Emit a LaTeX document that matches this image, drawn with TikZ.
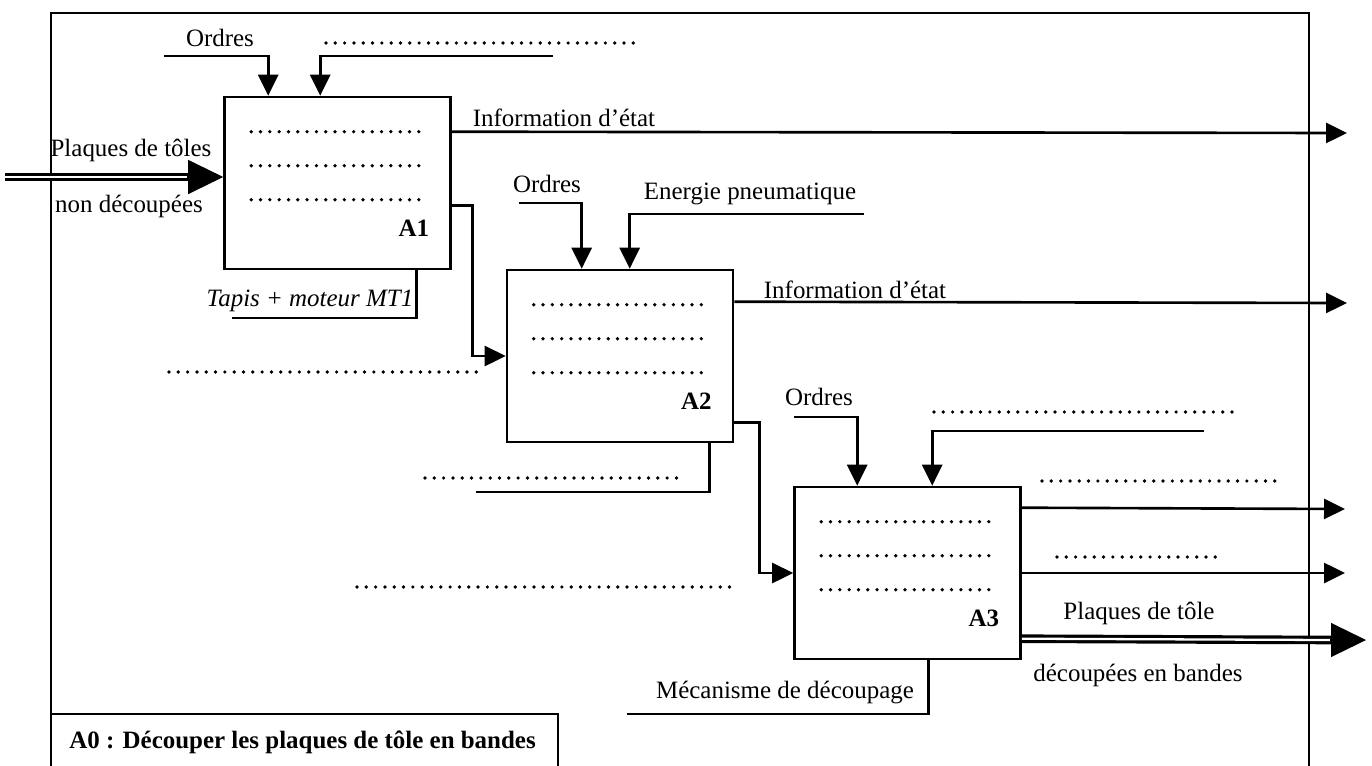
\documentclass[tikz,border=0pt]{standalone}
\usepackage{fontspec}
\setmainfont{Liberation Serif}
\usetikzlibrary{positioning,arrows.meta,calc}

\begin{document}
\begin{tikzpicture}[
    x=0.02cm, y=-0.02cm,
    box/.style={draw, line width=1.5pt, minimum width=4.52cm, minimum height=3.44cm, inner sep=0pt},
    lbl/.style={font=\fontsize{14.2}{17}\selectfont, inner sep=0pt},
    boxlbl/.style={font=\fontsize{14.2}{17}\selectfont\bfseries, inner sep=0pt},
    arrow/.style={-{Triangle[length=0.42cm,width=0.4cm]}, line width=1.5pt},
    wire/.style={line width=1.5pt},
    dbl/.style={double, line width=1.8pt, double distance=1.3pt},
    bigtip/.style={-{Triangle[length=0.7cm,width=0.68cm]}, line width=0.6pt},
    dots/.style={line width=2.1pt, line cap=round, dash pattern=on 0pt off 5.3pt}
]
\useasboundingbox (0,0) rectangle (1372,765);

% Frame and title
\draw[wire] (51,775) |- (1309,13) -- (1309,775);
\draw[wire] (51,714) -| (558,775);
\node[boxlbl, anchor=west] (a0) at (69,742) {A0 : Découper les plaques de tôle en bandes};

% Activities
\node[box] (A1) at (337.5,183) {};
\node[box] (A2) at (620,356) {};
\node[box] (A3) at (907.5,573) {};
\foreach \b in {A1,A2,A3} {
  \foreach \k in {0,1,2}
    \draw[dots] ($(\b.north west)+(28,36+34*\k)$) -- ++(168,0);
  \node[boxlbl] (\b lbl) at ($(\b.south east)+(-38,-42)$) {\b};
}

% A1
\node[lbl] (ord1) at (220,38) {Ordres};
\coordinate (c1a) at (164,56);
\coordinate (c1b) at (553,56);
\draw[arrow] (c1a) -| ($(A1.north west)+(45,0)$);
\draw[arrow] (c1b) -| ($(A1.north west)+(97,0)$);
\draw[dots] (326,43) -- (634,43);
\node[lbl] (info1) at (564,118) {Information d’état};
\coordinate (o1) at (1347,133);
\draw[arrow] ($(A1.north east)+(0,36)$) -- (o1);
\node[lbl] (plq1) at (131,150) {Plaques de tôles};
\node[lbl] (nond) at (129,206) {non découpées};
\coordinate (in1) at (5,177);
\coordinate (tip1) at (A1.west |- in1);
\draw[dbl] (in1) -- ($(tip1)+(-34,0)$);
\draw[bigtip] ($(tip1)+(-36,0)$) -- (tip1);
\draw[arrow] ($(A1.north east)+(0,110)$) -- ++(21,0) |- (A2.west);
\node[lbl, font=\fontsize{14.2}{17}\selectfont\itshape] (tapis) at (310,301) {Tapis + moteur MT1};
\coordinate (m1) at (232,318);
\draw[wire] ($(A1.south west)+(193,0)$) |- (m1);
\draw[dots] (169,372) -- (480,372);

% A2
\node[lbl] (ord2) at (547,184) {Ordres};
\node[lbl] (energ) at (750,194) {Energie pneumatique};
\coordinate (c2a) at (519,203);
\coordinate (c2b) at (864,214);
\draw[arrow] (c2a) -| ($(A2.north west)+(76,0)$);
\draw[arrow] (c2b) -| ($(A2.north west)+(124,0)$);
\node[lbl] (info2) at (855,290) {Information d’état};
\coordinate (o2) at (1347,303);
\draw[arrow] ($(A2.north east)+(0,33)$) -- (o2);
\draw[arrow] ($(A2.north east)+(0,154)$) -- ++(25,0) |- (A3.west);
\coordinate (m2) at (476,492);
\draw[wire] ($(A2.south west)+(204,0)$) |- (m2);
\draw[dots] (425,478) -- (679,478);

% A3
\node[lbl] (ord3) at (819,397) {Ordres};
\coordinate (c3a) at (794,417);
\coordinate (c3b) at (1204,431);
\draw[arrow] (c3a) -| ($(A3.north west)+(64,0)$);
\draw[arrow] (c3b) -| ($(A3.north west)+(139,0)$);
\draw[dots] (934,412) -- (1240,412);
\draw[dots] (1042,481) -- (1278,481);
\coordinate (o3) at (1345,509);
\draw[arrow] ($(A3.north east)+(0,22)$) -- (o3);
\draw[dots] (1057,557) -- (1221,557);
\coordinate (o4) at (1345,573);
\draw[arrow] (A3.east) -- (o4);
\node[lbl] (plq3) at (1139,613) {Plaques de tôle};
\node[lbl] (decb) at (1138,675) {découpées en bandes};
\coordinate (tip3) at (1366,640);
\draw[dbl] ($(A3.north east)+(0,153)$) -- ($(tip3)+(-34,0)$);
\draw[bigtip] ($(tip3)+(-36,0)$) -- (tip3);
\node[lbl] (meca) at (785,693) {Mécanisme de découpage};
\coordinate (m3) at (627,714);
\draw[wire] ($(A3.south west)+(135,0)$) |- (m3);
\draw[dots] (357,587) -- (735,587);
\end{tikzpicture}
\end{document}
